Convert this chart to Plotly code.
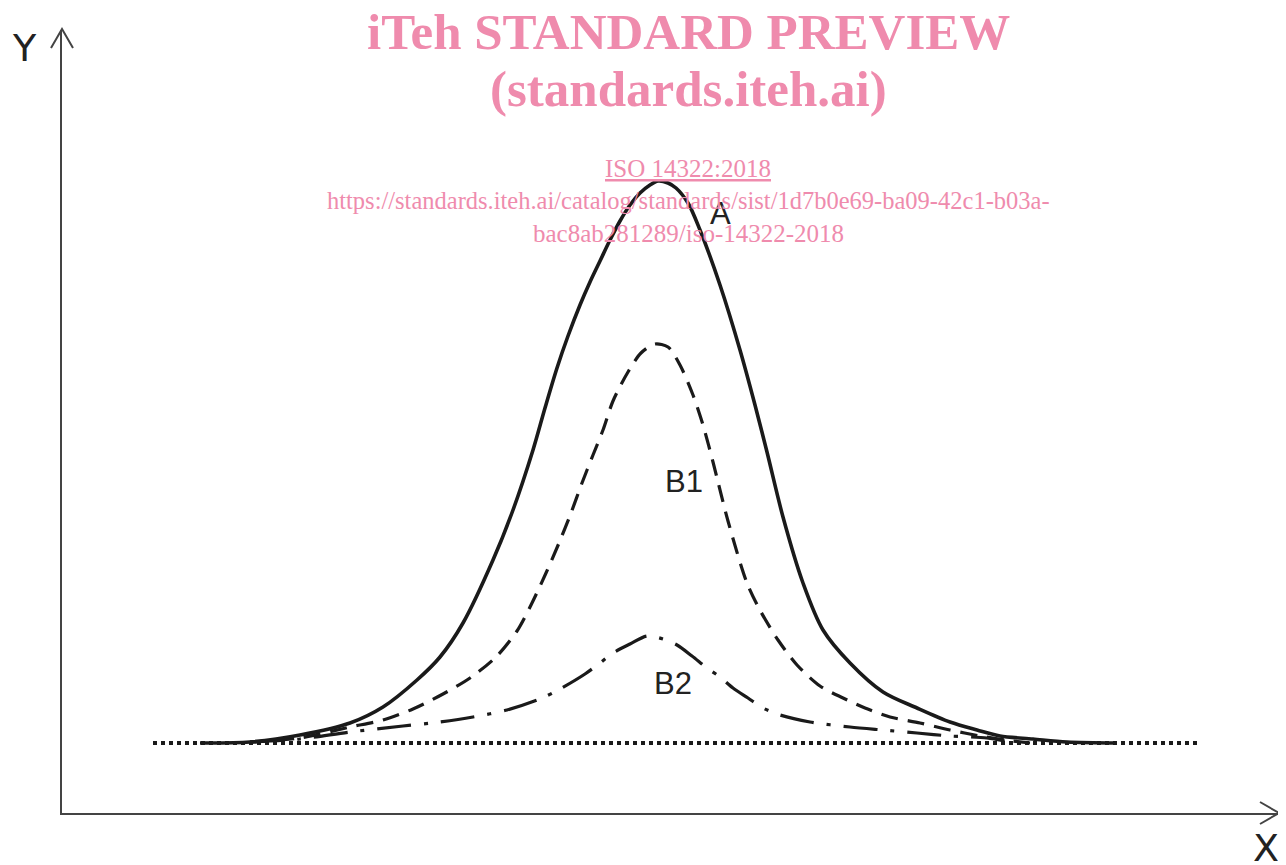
import plotly.graph_objects as go

# ---- data (x = position along X, y = height above X axis) ----
a_x = [138, 188, 238, 288, 321, 355, 378, 401, 431, 451, 471, 483, 495, 506, 518, 528, 538, 548,
       558, 568, 578, 588, 596, 606, 614, 626, 638, 658, 678, 693, 705, 721, 741, 761, 788, 821,
       855, 888, 915, 938, 971, 1005, 1055]
a_y = [70, 71, 78, 90, 106, 133, 156, 190, 253, 303, 363, 405, 445, 477, 508, 531, 552, 573,
       592, 608, 620, 628, 632, 630, 625, 610, 583, 528, 463, 408, 361, 296, 230, 183, 150, 121,
       105, 91, 83, 77, 74, 71, 70]

b1_x = [188, 238, 288, 321, 351, 381, 408, 434, 455, 470, 484, 497, 509, 520, 531, 541, 551,
        566, 579, 593, 606, 618, 631, 641, 651, 666, 685, 699, 716, 735, 758, 781, 803, 828,
        858, 888, 918, 943, 968]
b1_y = [71, 75, 86, 93, 104, 119, 135, 156, 182, 210, 240, 270, 300, 330, 358, 383, 412,
        441, 460, 469, 466, 448, 418, 388, 351, 292, 230, 201, 173, 148, 127, 115, 105, 96,
        90, 83, 77, 73, 70]

b2_x = [188, 238, 288, 341, 378, 411, 445, 478, 498, 523, 538, 551, 568, 585, 601, 615, 630,
        645, 658, 671, 686, 701, 718, 748, 788, 821, 855, 888, 925, 948]
b2_y = [71, 74, 81, 87, 91, 96, 103, 114, 124, 139, 150, 160, 169, 177, 174, 168, 157,
        145, 136, 125, 115, 105, 98, 91, 86, 83, 80, 77, 75, 71]

base_x = [91, 1138]
base_y = [70, 70]

curve_labels = ["A", "B1", "B2"]
label_x = [658, 622, 611]
label_y = [600, 332, 130]

axis_labels = ["Y", "X"]
watermark = [
    "<b>iTeh STANDARD PREVIEW</b>",
    "<b>(standards.iteh.ai)</b>",
    "<u>ISO 14322:2018</u>",
    "https://standards.iteh.ai/catalog/standards/sist/1d7b0e69-ba09-42c1-b03a-",
    "bac8ab281289/iso-14322-2018",
]

# ---- figure (page body has an 8px margin) ----
PAGE_OFF = 8
W, H = 1286 - PAGE_OFF, 865 - PAGE_OFF
PL, PR, PT, PB = 62, 1278, 30, 813          # plot area as seen on the page
ML, MT = PL - PAGE_OFF, PT - PAGE_OFF
MR, MB = W + PAGE_OFF - PR, H + PAGE_OFF - PB
PW, PH = PR - PL, PB - PT

def px(xp):
    return (xp - PL) / PW

def py(yp):
    return (PB - yp) / PH

fig = go.Figure()
black = "#1a1a1a"
fig.add_trace(go.Scatter(x=base_x, y=base_y, mode="lines",
                         line=dict(color=black, width=4, dash="4px,4px"), hoverinfo="skip"))
fig.add_trace(go.Scatter(x=b2_x, y=b2_y, mode="lines",
                         line=dict(color=black, width=3.2, dash="34px,13px,4px,13px",
                                   shape="spline", smoothing=0.8), hoverinfo="skip"))
fig.add_trace(go.Scatter(x=b1_x, y=b1_y, mode="lines",
                         line=dict(color=black, width=3.2, dash="17px,10px",
                                   shape="spline", smoothing=0.8), hoverinfo="skip"))
fig.add_trace(go.Scatter(x=a_x, y=a_y, mode="lines",
                         line=dict(color=black, width=3.6, shape="spline", smoothing=0.9),
                         hoverinfo="skip"))

for t, lx, ly in zip(curve_labels, label_x, label_y):
    fig.add_annotation(x=lx, y=ly, xref="x", yref="y", text=t, showarrow=False,
                       xanchor="center", yanchor="middle",
                       font=dict(family="Liberation Sans, Arial", size=31, color="#222222"))

# axis labels
for t, (lx, ly) in zip(axis_labels, [(24, 48), (1266, 848)]):
    fig.add_annotation(x=px(lx), y=py(ly), xref="paper", yref="paper", text=t,
                       showarrow=False, xanchor="center", yanchor="middle",
                       font=dict(family="DejaVu Sans, Liberation Sans", size=38, color="#222222"))

# arrowheads on the axes
axc = "#444444"
fig.add_shape(type="path", xref="paper", yref="paper",
              path=f"M {px(51)} {py(48)} L {px(62)} {py(29)} L {px(73)} {py(48)}",
              line=dict(color=axc, width=2))
fig.add_shape(type="path", xref="paper", yref="paper",
              path=f"M {px(1260)} {py(802)} L {px(1279)} {py(813)} L {px(1260)} {py(824)}",
              line=dict(color=axc, width=2))

# watermark text
pink = "#EF8BAD"
wm_y = [32, 89, 168, 201, 233]
wm_size = [51, 51, 25, 24.5, 25]
for t, yy, s in zip(watermark, wm_y, wm_size):
    fig.add_annotation(x=px(688), y=py(yy), xref="paper", yref="paper", text=t, showarrow=False,
                       xanchor="center", yanchor="middle",
                       font=dict(family="Liberation Serif, Times New Roman", size=s, color=pink))

fig.update_layout(
    width=W, height=H, margin=dict(l=ML, r=MR, t=MT, b=MB, pad=0),
    paper_bgcolor="white", plot_bgcolor="white", showlegend=False,
    xaxis=dict(range=[0, PW], showgrid=False, zeroline=False, showticklabels=False, ticks="",
               showline=True, linecolor=axc, linewidth=2),
    yaxis=dict(range=[0, PH], showgrid=False, zeroline=False, showticklabels=False, ticks="",
               showline=True, linecolor=axc, linewidth=2),
)

fig.write_html("out.html")
